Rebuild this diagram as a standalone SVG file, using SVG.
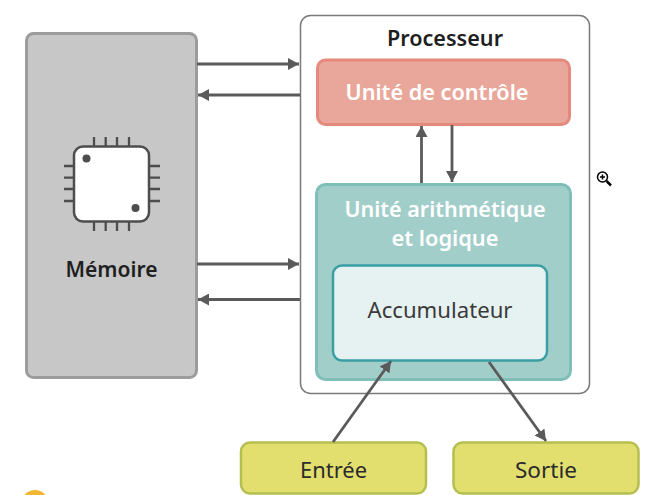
<svg xmlns="http://www.w3.org/2000/svg" width="661" height="495" viewBox="0 0 661 495">
<style>
text{font-family:"Noto Sans","Open Sans","Liberation Sans",sans-serif;text-anchor:middle}
.t{font-size:22px;font-weight:600;fill:#1f1f1f}
.w{font-size:22px;font-weight:600;fill:#fff}
.n{font-size:22px;fill:#2b2b2b}
.c{stroke:#5a5a5a;stroke-width:2.8;fill:none;marker-end:url(#a)}
.p{stroke:#4d4d4d;stroke-width:2.300;fill:none}
</style>
<defs><marker id="a" markerUnits="userSpaceOnUse" markerWidth="12" markerHeight="12" refX="11" refY="6" orient="auto"><path d="M0 0L11 6L0 12Z" fill="#5a5a5a"/></marker></defs>
<rect width="661" height="495" fill="#fff"/>
<g id="memoire">
<rect x="26.500" y="33.500" width="170" height="344" rx="7" fill="#c6c7c6" stroke="#9b9c9b" stroke-width="3"/>
<path class="p" d="M94 137v9M105.700 137v9M117 137v9M129 137v9M94 222v9M105.700 222v9M117 222v9M129 222v9M64 166h10M64 177.700h10M64 189h10M64 201h10M149 166h11M149 177.700h11M149 189h11M149 201h11"/>
<rect x="74" y="146.500" width="75" height="75" rx="9" fill="#fff" stroke="#4d4d4d" stroke-width="2.500"/>
<circle cx="86.500" cy="158.500" r="4" fill="#4d4d4d"/>
<circle cx="135.500" cy="208" r="4" fill="#4d4d4d"/>
<text class="t" x="111.500" y="276.500" textLength="92" lengthAdjust="spacingAndGlyphs">Mémoire</text>
</g>
<g id="processeur">
<rect x="300.500" y="15.500" width="289" height="378" rx="10" fill="#fff" stroke="#7a7a7a" stroke-width="1.500"/>
<text class="t" x="445" y="45.500" textLength="116" lengthAdjust="spacingAndGlyphs">Processeur</text>
</g>
<g id="controle">
<rect x="317.500" y="60" width="252" height="64.500" rx="8" fill="#e9a79b" stroke="#e5897d" stroke-width="3"/>
<text class="w" x="437" y="99.500" textLength="183" lengthAdjust="spacingAndGlyphs">Unité de contrôle</text>
</g>
<g id="ual">
<rect x="316.500" y="184.500" width="254" height="195" rx="9" fill="#a2ceca" stroke="#7fbfb8" stroke-width="3"/>
<text class="w" x="445" y="216.500" textLength="201" lengthAdjust="spacingAndGlyphs">Unité arithmétique</text>
<text class="w" x="445" y="245.500" textLength="107" lengthAdjust="spacingAndGlyphs">et logique</text>
</g>
<g id="accumulateur">
<rect x="333" y="265.500" width="214" height="95" rx="9" fill="#e6f2f1" stroke="#3a9ea5" stroke-width="2.500"/>
<text class="n" x="440" y="317.500" fill="#3a3a3a" textLength="145" lengthAdjust="spacingAndGlyphs" style="fill:#3a3a3a">Accumulateur</text>
</g>
<g id="entree">
<rect x="241" y="442.500" width="185" height="51" rx="9" fill="#e2df6f" stroke="#b3c050" stroke-width="2.500"/>
<text class="n" x="333.500" y="477.500" textLength="67" lengthAdjust="spacingAndGlyphs">Entrée</text>
</g>
<g id="sortie">
<rect x="453.500" y="442.500" width="185" height="51" rx="9" fill="#e2df6f" stroke="#b3c050" stroke-width="2.500"/>
<text class="n" x="546" y="477.500" textLength="62" lengthAdjust="spacingAndGlyphs">Sortie</text>
</g>
<g id="connecteurs">
<path class="c" d="M197 64H299"/>
<path class="c" d="M300 95H198"/>
<path class="c" d="M197 264H299"/>
<path class="c" d="M300 299.500H198"/>
<path class="c" d="M421.500 183V126"/>
<path class="c" d="M452 125V182"/>
<path class="c" d="M333 442L391 361"/>
<path class="c" d="M489 362L546 441"/>
</g>
<circle id="pastille" cx="35" cy="503.500" r="13.500" fill="#f2b632"/>
<g id="curseur" fill="none" stroke="#000">
<circle cx="602.500" cy="177" r="5" stroke-width="1.500" fill="#fff"/>
<path d="M600 177h5M602.500 174.500v5" stroke-width="1.500"/>
<path d="M606.500 181L611 185.500" stroke-width="2.500"/>
</g>
</svg>
